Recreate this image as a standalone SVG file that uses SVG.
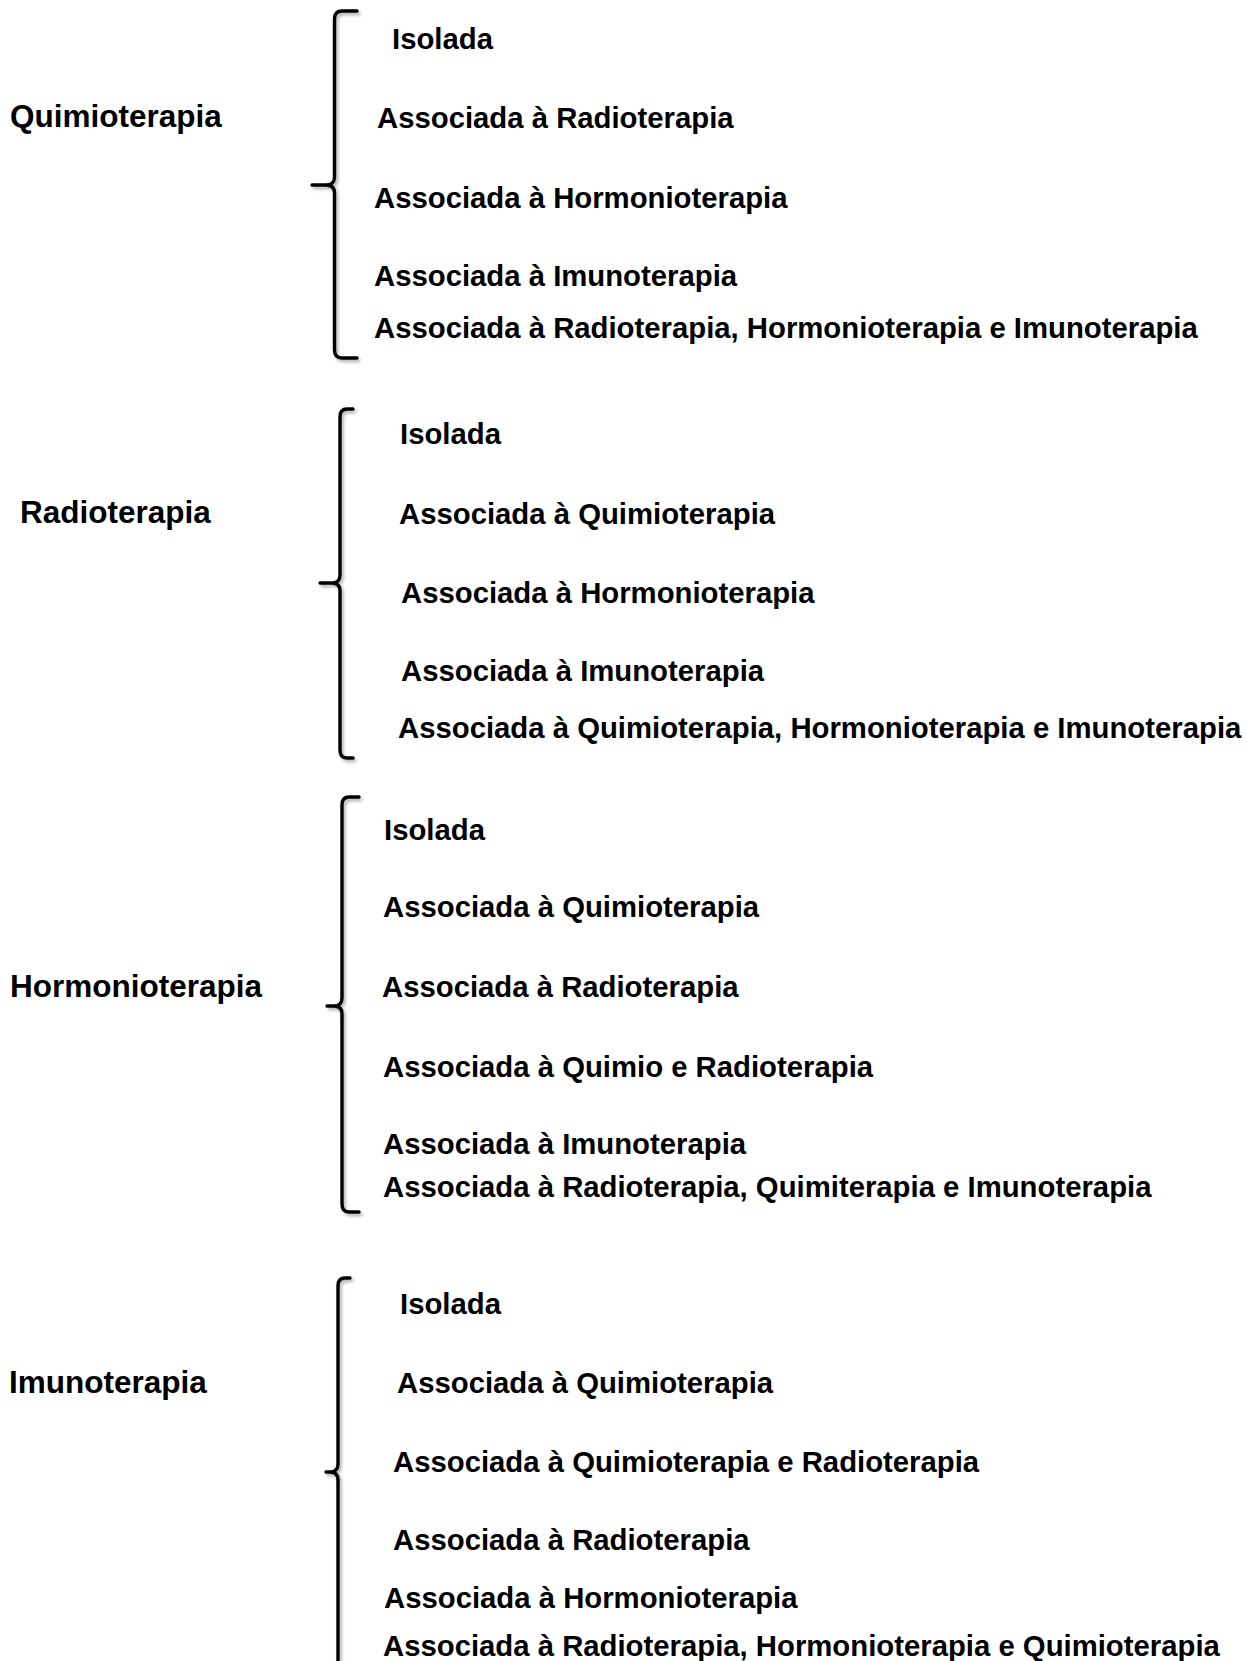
<svg xmlns="http://www.w3.org/2000/svg" width="1247" height="1661" viewBox="0 0 1247 1661">
<defs>
<style>
.lbl{font-family:"Liberation Sans",Arial,sans-serif;font-weight:bold;font-size:31.5px;fill:#000}
.it{font-family:"Liberation Sans",Arial,sans-serif;font-weight:bold;font-size:29.3px;fill:#000}
.br{fill:none;stroke:#000;stroke-width:3.4;stroke-linecap:round;stroke-linejoin:round}
</style>
<filter id="sh" x="-50%" y="-5%" width="200%" height="110%">
<feDropShadow dx="2" dy="2.5" stdDeviation="1.5" flood-color="#000" flood-opacity="0.3"/>
</filter>
</defs>
<rect width="1247" height="1661" fill="#fff"/>
<g id="connectors" filter="url(#sh)">
<path class="br" d="M357,11 H342 Q334.5,11 334.5,19 V177 Q334.5,185 326,185 H312 M326,185 Q334.5,185 334.5,193 V350 Q334.5,358 342,358 H357"/>
<path class="br" d="M353,409 H347 Q340,409 340,417 V575 Q340,583 332,583 H320 M332,583 Q340,583 340,591 V750 Q340,758 347,758 H353"/>
<path class="br" d="M359,797 H349 Q342,797 342,805 V998 Q342,1006 334,1006 H327 M334,1006 Q342,1006 342,1014 V1204 Q342,1212 349,1212 H359"/>
<path class="br" d="M350,1278 H345 Q338,1278 338,1286 V1464 Q338,1472 330,1472 H326 M330,1472 Q338,1472 338,1480 V1665"/>
</g>
<g id="quimioterapia">
<text class="lbl" x="10" y="127">Quimioterapia</text>
<text class="it" x="392" y="49">Isolada</text>
<text class="it" x="377" y="128">Associada à Radioterapia</text>
<text class="it" x="374" y="208">Associada à Hormonioterapia</text>
<text class="it" x="374" y="286">Associada à Imunoterapia</text>
<text class="it" x="374" y="338">Associada à Radioterapia, Hormonioterapia e Imunoterapia</text>
</g>
<g id="radioterapia">
<text class="lbl" x="20" y="523">Radioterapia</text>
<text class="it" x="400" y="444">Isolada</text>
<text class="it" x="399" y="524">Associada à Quimioterapia</text>
<text class="it" x="401" y="603">Associada à Hormonioterapia</text>
<text class="it" x="401" y="681">Associada à Imunoterapia</text>
<text class="it" x="398" y="738">Associada à Quimioterapia, Hormonioterapia e Imunoterapia</text>
</g>
<g id="hormonioterapia">
<text class="lbl" x="10" y="997">Hormonioterapia</text>
<text class="it" x="384" y="840">Isolada</text>
<text class="it" x="383" y="917">Associada à Quimioterapia</text>
<text class="it" x="382" y="997">Associada à Radioterapia</text>
<text class="it" x="383" y="1077">Associada à Quimio e Radioterapia</text>
<text class="it" x="383" y="1154">Associada à Imunoterapia</text>
<text class="it" x="383" y="1197">Associada à Radioterapia, Quimiterapia e Imunoterapia</text>
</g>
<g id="imunoterapia">
<text class="lbl" x="9" y="1393">Imunoterapia</text>
<text class="it" x="400" y="1314">Isolada</text>
<text class="it" x="397" y="1393">Associada à Quimioterapia</text>
<text class="it" x="393" y="1472">Associada à Quimioterapia e Radioterapia</text>
<text class="it" x="393" y="1550">Associada à Radioterapia</text>
<text class="it" x="384" y="1608">Associada à Hormonioterapia</text>
<text class="it" x="383" y="1656">Associada à Radioterapia, Hormonioterapia e Quimioterapia</text>
</g>
</svg>
